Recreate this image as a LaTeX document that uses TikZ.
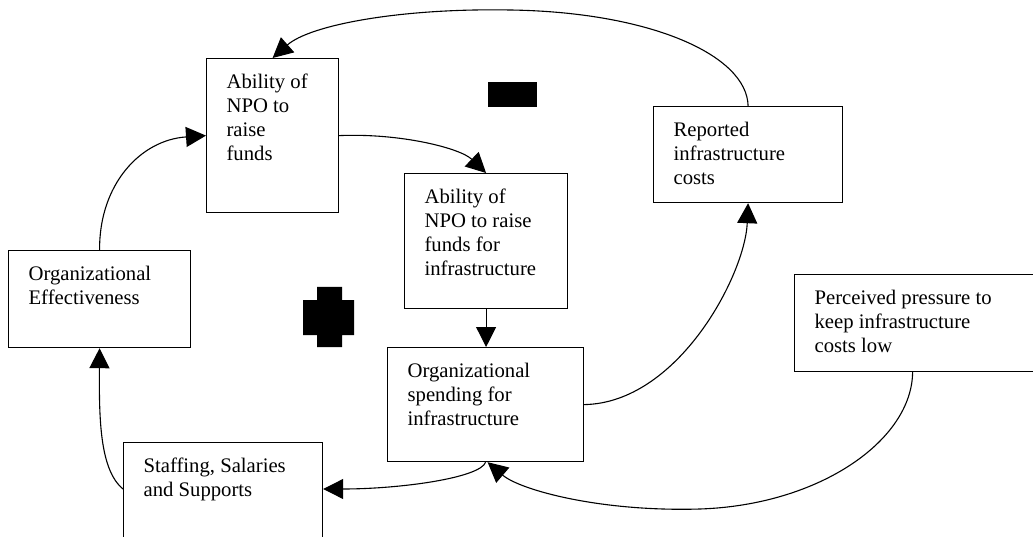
\documentclass[tikz,border=0pt]{standalone}
\usepackage{fontspec}
\setmainfont{Liberation Serif}
\usetikzlibrary{arrows.meta}

% box contents: top-aligned, left-padded text in a fixed-size area
\newcommand{\cldtext}[3]{%
  \parbox[c][#2][t]{#1}{\fontsize{20.7}{24}\selectfont\raggedright
    \leftskip=20pt\parindent=0pt\rule{0pt}{30pt}#3}}

\tikzset{
  cld/.style={draw, line width=1.2pt, inner sep=0pt, anchor=north west},
  link/.style={line width=1.1pt, -{Triangle[length=20pt,width=20pt]}},
  sign/.style={fill=black}
}

\begin{document}
\begin{tikzpicture}[x=1pt, y=-1pt]
  \useasboundingbox (0,0) rectangle (1033,537);
  \clip (0,0) rectangle (1033,537);

  % variables of the causal loop
  \node[cld] (A) at (206,58)  {\cldtext{132pt}{154pt}{Ability of\\NPO to\\raise\\funds}};
  \node[cld] (B) at (404,173) {\cldtext{163pt}{135pt}{Ability of\\NPO to raise\\funds for\\infrastructure}};
  \node[cld] (C) at (653,106) {\cldtext{189pt}{96pt}{Reported\\infrastructure\\costs}};
  \node[cld] (D) at (8,250)   {\cldtext{182pt}{97pt}{Organizational\\Effectiveness}};
  \node[cld] (E) at (794,274) {\cldtext{250pt}{97pt}{Perceived pressure to\\keep infrastructure\\costs low}};
  \node[cld] (F) at (387,347) {\cldtext{196pt}{114pt}{Organizational\\spending for\\infrastructure}};
  \node[cld] (G) at (123,442) {\cldtext{199pt}{110pt}{Staffing, Salaries\\and Supports}};

  % loop polarity marks
  \fill[sign] (488,82) rectangle (537,107);
  \fill[sign] (317,287) rectangle (342,347) (303,300) rectangle (354,335);

  % causal links
  \draw[link] (C.north) .. controls (747,55) and (650,12) .. (510,10)
                        .. controls (400,8) and (310,25) .. (A.north);
  \draw[link] (A.east) .. controls (400,133) and (460,148) .. (B.north);
  \draw[link] (D.north) .. controls (99,185) and (140,140) .. (A.west);
  \draw[link] (B.south) -- (B.south |- F.north);
  \draw[link] (F.east) .. controls (678,403) and (745,275) .. (C.south);
  \draw[link] (F.south) .. controls (480,478) and (400,489) .. ([yshift=-47pt]G.north east);
  \draw[link] ([yshift=-47pt]G.north west) .. controls (100,470) and (99,420) .. (D.south);
  \draw[link] ([xshift=-7pt]E.south) .. controls (912,440) and (820,505) .. (700,509)
                                   .. controls (600,512) and (520,490) .. ([xshift=2pt]F.south);
\end{tikzpicture}
\end{document}
